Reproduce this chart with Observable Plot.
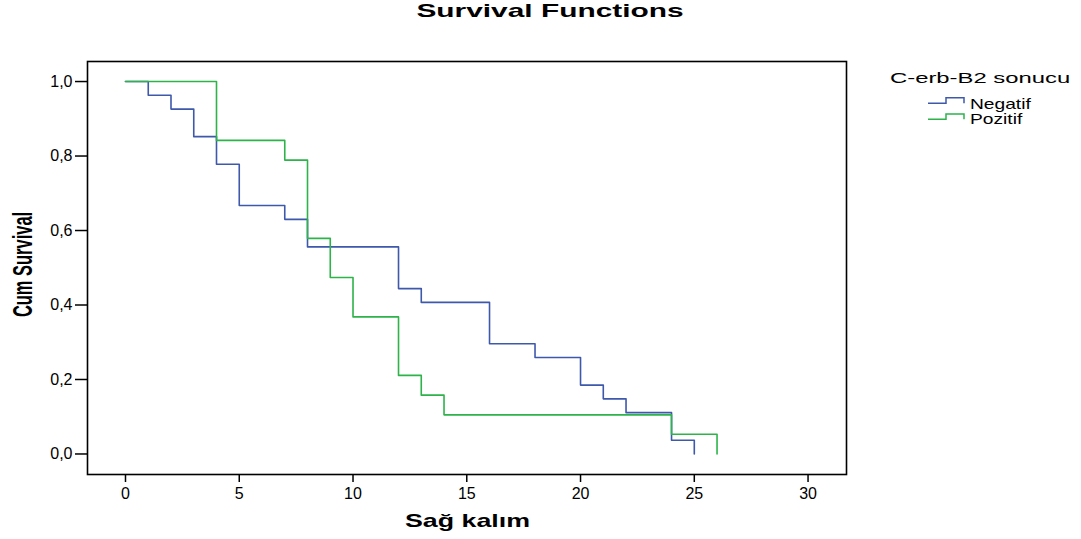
<!DOCTYPE html>
<html>
<head>
<meta charset="utf-8">
<script src="https://cdn.jsdelivr.net/npm/d3@7"></script>
<script src="https://cdn.jsdelivr.net/npm/@observablehq/plot@0.6"></script>
<style>
  html, body { margin: 0; padding: 0; background: #fff; }
  #wrap { position: relative; width: 1081px; height: 539px; overflow: hidden; background: #fff; }
  #wrap > svg { position: absolute; left: 0; top: 0; }
</style>
</head>
<body>
<div id="wrap"></div>
<script>
// ---- data ----
const groups = ["Negatif", "Pozitif"];
const groupColors = ["#3e58ac", "#2db34a"];
const negTimes = [0, 1, 2, 3, 4, 5, 7, 8, 12, 13, 16, 18, 20, 21, 22, 24, 25];
const negSurv  = [1, 0.963, 0.926, 0.852, 0.778, 0.667, 0.630, 0.556, 0.444, 0.407, 0.296, 0.259, 0.185, 0.148, 0.111, 0.037, 0];
const posTimes = [0, 4, 7, 8, 9, 10, 12, 13, 14, 24, 26];
const posSurv  = [1, 0.842, 0.789, 0.579, 0.474, 0.368, 0.211, 0.158, 0.105, 0.053, 0];
const xTicks = [0, 5, 10, 15, 20, 25, 30];
const yTicks = [0, 0.2, 0.4, 0.6, 0.8, 1.0];
const chartTitle = "Survival Functions";
const xLabel = "Sağ kalım";
const yLabel = "Cum Survival";
const legendTitle = "C-erb-B2 sonucu";

const rows = [
  ...negTimes.map((t, i) => ({group: groups[0], t, s: negSurv[i]})),
  ...posTimes.map((t, i) => ({group: groups[1], t, s: posSurv[i]}))
];

const W = 1081, H = 539;
const chart = Plot.plot({
  width: W, height: H,
  marginLeft: 87, marginRight: 235, marginTop: 61, marginBottom: 65,
  style: {fontFamily: "'Liberation Sans', Arial, sans-serif", color: "#000", background: "transparent", overflow: "visible"},
  x: {domain: [-1.67, 31.69], label: null},
  y: {domain: [-0.0551, 1.0538], label: null},
  color: {domain: groups, range: groupColors},
  marks: [
    Plot.line(rows, {x: "t", y: "s", z: "group", stroke: "group", curve: "step-after", strokeWidth: 1.6}),
    Plot.axisX({ticks: xTicks, tickFormat: d => String(d), tickSize: 8, tickPadding: 5, fontSize: 16, strokeWidth: 1.5, label: null}),
    Plot.axisY({ticks: yTicks, tickFormat: d => d.toFixed(1).replace(".", ","), tickSize: 12, tickPadding: 3, fontSize: 16, strokeWidth: 1.5, label: null}),
    Plot.frame({stroke: "#000", strokeWidth: 1.6})
  ]
});
document.getElementById("wrap").appendChild(chart);

// ---- text overlay: title, axis titles, legend ----
const ov = d3.select("#wrap").append("svg")
  .attr("width", W).attr("height", H)
  .style("font-family", "'Liberation Sans', Arial, sans-serif");

ov.append("text").attr("transform", "translate(550,17) scale(1.66,1)")
  .attr("text-anchor", "middle").attr("font-size", 18).attr("font-weight", "bold").text(chartTitle);

ov.append("text").attr("transform", "translate(467.5,527) scale(1.41,1)")
  .attr("text-anchor", "middle").attr("font-size", 19).attr("font-weight", "bold").text(xLabel);

ov.append("text").attr("transform", "translate(32,264.5) rotate(-90) scale(0.61,1)")
  .attr("text-anchor", "middle").attr("font-size", 27).attr("font-weight", "bold").text(yLabel);

ov.append("text").attr("transform", "translate(890,83) scale(1.59,1)")
  .attr("font-size", 15).text(legendTitle);

const legendRows = [
  {name: groups[0], color: groupColors[0], base: 108.5, lo: 103.3, hi: 97.7},
  {name: groups[1], color: groupColors[1], base: 124, lo: 119.3, hi: 114}
];
legendRows.forEach(r => {
  ov.append("path")
    .attr("d", `M928,${r.lo}H946V${r.hi}H964V${r.lo}`)
    .attr("fill", "none").attr("stroke", r.color).attr("stroke-width", 1.5);
  ov.append("text").attr("transform", `translate(970,${r.base}) scale(1.28,1)`)
    .attr("font-size", 15).text(r.name);
});
</script>
</body>
</html>
